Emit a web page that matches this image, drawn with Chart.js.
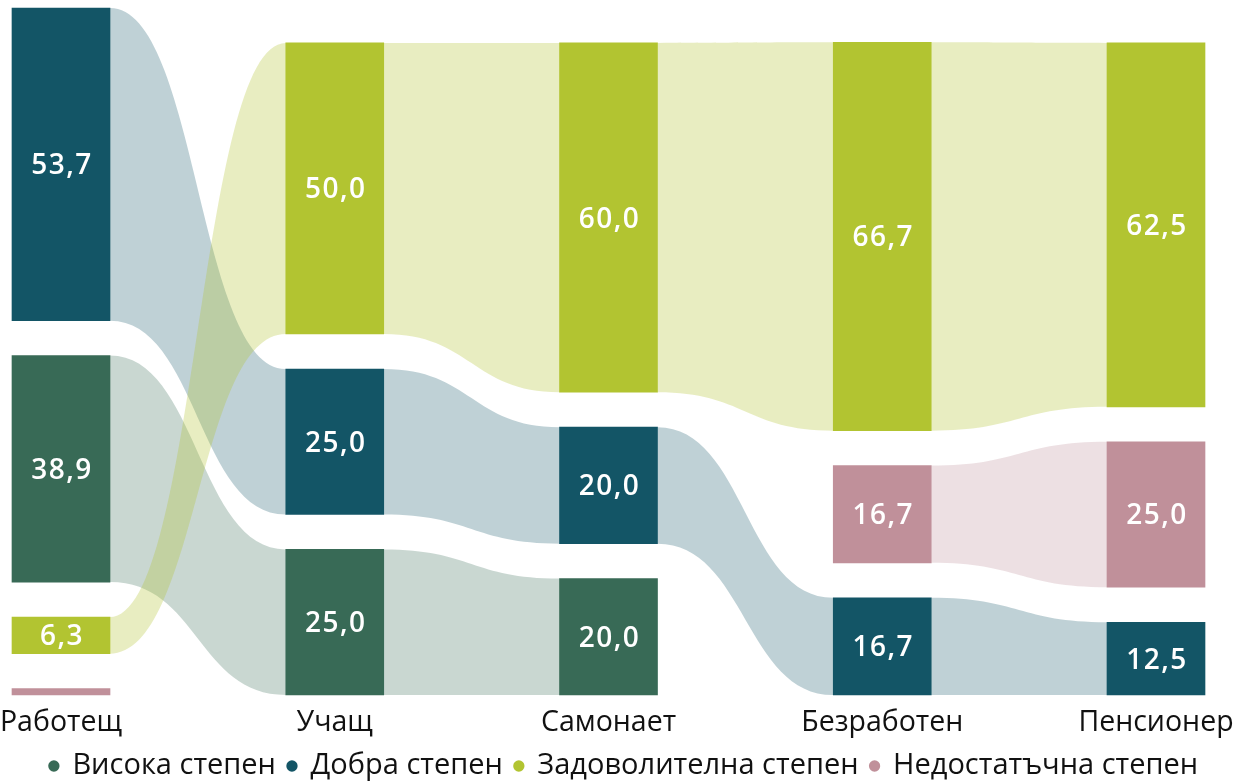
<!DOCTYPE html>
<html>
<head>
<meta charset="utf-8">
<script src="https://cdn.jsdelivr.net/npm/chart.js@4/dist/chart.umd.min.js"></script>
<style>
  html, body { margin: 0; padding: 0; background: #ffffff; }
  #wrap { width: 1248px; height: 781px; position: relative; }
</style>
</head>
<body>
<div id="wrap"><canvas id="c"></canvas></div>
<script>
// ---- data ----
const categories = ['Работещ', 'Учащ', 'Самонает', 'Безработен', 'Пенсионер'];
const seriesNames = ['Висока степен', 'Добра степен', 'Задоволителна степен', 'Недостатъчна степен'];
const vysoka = [38.9, 25.0, 20.0, 0, 0];
const dobra = [53.7, 25.0, 20.0, 16.7, 12.5];
const zadovolitelna = [6.3, 50.0, 60.0, 66.7, 62.5];
const nedostatachna = [1.1, 0, 0, 16.7, 25.0];

// ---- styling ----
const barColors = ['#386a56', '#135566', '#b2c431', '#c0909a'];
const ribbonColors = ['rgba(56,106,86,0.27)', 'rgba(19,85,102,0.27)', 'rgba(178,196,49,0.30)', 'rgba(192,144,154,0.28)'];
const tiePriority = [3, 2, 0, 1]; // lower = higher in column when values tie
const GAP = 6; // gap between stacked segments, in value units

const series = [vysoka, dobra, zadovolitelna, nedostatachna];

// build floating ranges: each column sorted descending from top, bottom-aligned at 0
const ranges = series.map(() => categories.map(() => null));
let maxTop = 0;
categories.forEach((c, ci) => {
  const present = series.map((s, si) => si).filter(si => series[si][ci] > 0);
  present.sort((a, b) => (series[b][ci] - series[a][ci]) || (tiePriority[a] - tiePriority[b]));
  let cum = 0;
  for (let k = present.length - 1; k >= 0; k--) {
    const si = present[k];
    const v = series[si][ci];
    ranges[si][ci] = [cum, cum + v];
    cum += v;
    if (k > 0) cum += GAP;
  }
  maxTop = Math.max(maxTop, cum);
});

const fmt = v => v.toFixed(1).replace('.', ',');

const ribbonPlugin = {
  id: 'ribbons',
  beforeDatasetsDraw(chart) {
    const ctx = chart.ctx;
    chart.data.datasets.forEach((ds, di) => {
      const meta = chart.getDatasetMeta(di);
      ctx.save();
      ctx.fillStyle = ribbonColors[di];
      for (let i = 0; i < meta.data.length - 1; i++) {
        if (!ds.data[i] || !ds.data[i + 1]) continue;
        const a = meta.data[i], b = meta.data[i + 1];
        const x0 = a.x + a.width / 2, x1 = b.x - b.width / 2, xm = (x0 + x1) / 2;
        const aT = Math.min(a.y, a.base), aB = Math.max(a.y, a.base);
        const bT = Math.min(b.y, b.base), bB = Math.max(b.y, b.base);
        ctx.beginPath();
        ctx.moveTo(x0, aT);
        ctx.bezierCurveTo(xm, aT, xm, bT, x1, bT);
        ctx.lineTo(x1, bB);
        ctx.bezierCurveTo(xm, bB, xm, aB, x0, aB);
        ctx.closePath();
        ctx.fill();
      }
      ctx.restore();
    });
  }
};

const valueLabelPlugin = {
  id: 'valueLabels',
  afterDatasetsDraw(chart) {
    const ctx = chart.ctx;
    ctx.save();
    ctx.fillStyle = '#ffffff';
    ctx.font = '600 28px "Open Sans", sans-serif';
    ctx.textAlign = 'center';
    ctx.textBaseline = 'middle';
    try { ctx.letterSpacing = '1.5px'; } catch (e) {}
    chart.data.datasets.forEach((ds, di) => {
      const meta = chart.getDatasetMeta(di);
      meta.data.forEach((el, i) => {
        const v = series[di][i];
        if (!ds.data[i] || v < 5) return;
        ctx.fillText(fmt(v), el.x + 1, (el.y + el.base) / 2 + 2);
      });
    });
    ctx.restore();
  }
};

new Chart(document.getElementById('c'), {
  type: 'bar',
  data: {
    labels: categories,
    datasets: seriesNames.map((name, si) => ({
      label: name,
      data: ranges[si],
      backgroundColor: barColors[si],
      borderWidth: 0,
      barThickness: 98,
      grouped: false,
      clip: false
    }))
  },
  options: {
    responsive: true,
    maintainAspectRatio: false,
    animation: false,
    layout: { padding: { left: 0, right: 0, top: 8, bottom: -9.5 } },
    scales: {
      x: {
        offset: false,
        grid: { display: false, drawTicks: false },
        border: { display: false },
        afterFit(scale) {
          scale.paddingLeft = 61;
          scale.paddingRight = 92;
          scale.height = 44.5;
        },
        ticks: {
          autoSkip: false,
          maxRotation: 0,
          padding: 14,
          color: '#111111',
          font: { family: '"Open Sans", sans-serif', size: 28.5, lineHeight: 1.0 }
        }
      },
      y: {
        display: false,
        min: 0,
        max: maxTop
      }
    },
    plugins: {
      legend: {
        position: 'bottom',
        labels: {
          usePointStyle: true,
          pointStyle: 'circle',
          boxWidth: 8,
          boxHeight: 8,
          padding: 12,
          color: '#111111',
          font: { family: '"Open Sans", sans-serif', size: 29 }
        }
      },
      tooltip: { enabled: false }
    }
  },
  plugins: [ribbonPlugin, valueLabelPlugin]
});
</script>
</body>
</html>
